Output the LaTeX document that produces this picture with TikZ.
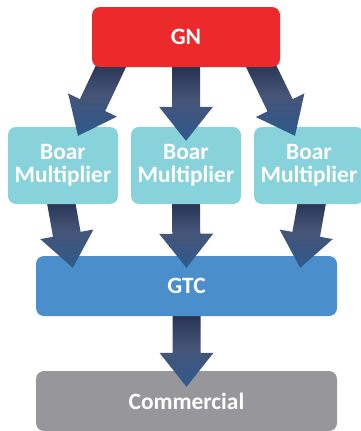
\documentclass[tikz,border=0pt]{standalone}
\usepackage{fontspec}
\setmainfont{Carlito}
\usetikzlibrary{calc}
\pgfdeclarelayer{lzero}
\pgfdeclarelayer{lone}
\pgfdeclarelayer{ltwo}
\pgfdeclarelayer{lthree}
\pgfdeclarelayer{lfour}
\pgfdeclarelayer{lfive}
\pgfsetlayers{lzero,lone,ltwo,lthree,lfour,lfive,main}
\definecolor{gnred}{HTML}{EC2A2B}
\definecolor{boarcyan}{HTML}{88D2DB}
\definecolor{gtcblue}{HTML}{4A8ECB}
\definecolor{comgray}{HTML}{97979B}
\definecolor{arrtop}{HTML}{1F2C4A}
\definecolor{arrmid}{HTML}{465478}
\definecolor{arrbot}{HTML}{2F5A8C}
\newcommand\blockarrow[2]{%
  \coordinate (ha) at ($(#2)!34pt!(#1)$);
  \shade[arrowfill] ($(#1)!14pt!90:(#2)$) -- ($(ha)!14pt!90:(#2)$) -- ($(ha)!27pt!90:(#2)$) -- (#2)
    -- ($(ha)!27pt!-90:(#2)$) -- ($(ha)!14pt!-90:(#2)$) -- ($(#1)!14pt!-90:(#2)$) -- cycle;}
\begin{document}
\begin{tikzpicture}[x=1pt,y=-1pt,
  box/.style={rounded corners=8pt, inner sep=0pt, text=white,
    font=\fontsize{23.4}{23}\selectfont\bfseries, align=center},
  arrowfill/.style={top color=arrtop, bottom color=arrbot, middle color=arrmid}]
\useasboundingbox (0,0) rectangle (361,431);
% boxes
\node[box, fill=gnred, minimum width=188pt, minimum height=60pt] (gn) at (186,37) {GN};
\begin{pgfonlayer}{lfour}
\node[box, fill=boarcyan, minimum width=110pt, minimum height=77pt] (b1) at (63,165.5) {Boar\\Multiplier};
\node[box, fill=boarcyan, minimum width=110pt, minimum height=77pt] (b2) at (186,165.5) {Boar\\Multiplier};
\node[box, fill=boarcyan, minimum width=110pt, minimum height=77pt] (b3) at (309,165.5) {Boar\\Multiplier};
\end{pgfonlayer}
\begin{pgfonlayer}{ltwo}
\node[box, fill=gtcblue, minimum width=301pt, minimum height=60pt] (gtc) at (186.5,286) {GTC};
\end{pgfonlayer}
\begin{pgfonlayer}{lzero}
\node[box, fill=comgray, minimum width=301pt, minimum height=60pt] (com) at (186.5,401) {Commercial};
\end{pgfonlayer}
% arrow end points
\coordinate (s1) at ($(gn.south west)+(22,-7)$);
\coordinate (e1) at ($(b1.north)+(15,9)$);
\coordinate (s2) at ($(gn.south)+(0,-7)$);
\coordinate (e2) at ($(b2.north)+(0,14)$);
\coordinate (s3) at ($(gn.south east)+(-22,-7)$);
\coordinate (e3) at ($(b3.north)+(-14,9)$);
\coordinate (s4) at ($(b1.south)+(-3,-8)$);
\coordinate (e4) at ($(gtc.north west)+(37,12)$);
\coordinate (s5) at ($(b2.south)+(0,-8)$);
\coordinate (e5) at ($(gtc.north)+(0,12)$);
\coordinate (s6) at ($(b3.south)+(4,-8)$);
\coordinate (e6) at ($(gtc.north east)+(-37,12)$);
\coordinate (s7) at ($(gtc.south)+(0,-8)$);
\coordinate (e7) at ($(com.north)+(0,16)$);
\begin{pgfonlayer}{lfive}
\blockarrow{s1}{e1}
\blockarrow{s2}{e2}
\blockarrow{s3}{e3}
\end{pgfonlayer}
\begin{pgfonlayer}{lthree}
\blockarrow{s4}{e4}
\blockarrow{s5}{e5}
\blockarrow{s6}{e6}
\end{pgfonlayer}
\begin{pgfonlayer}{lone}
\blockarrow{s7}{e7}
\end{pgfonlayer}
\end{tikzpicture}
\end{document}
